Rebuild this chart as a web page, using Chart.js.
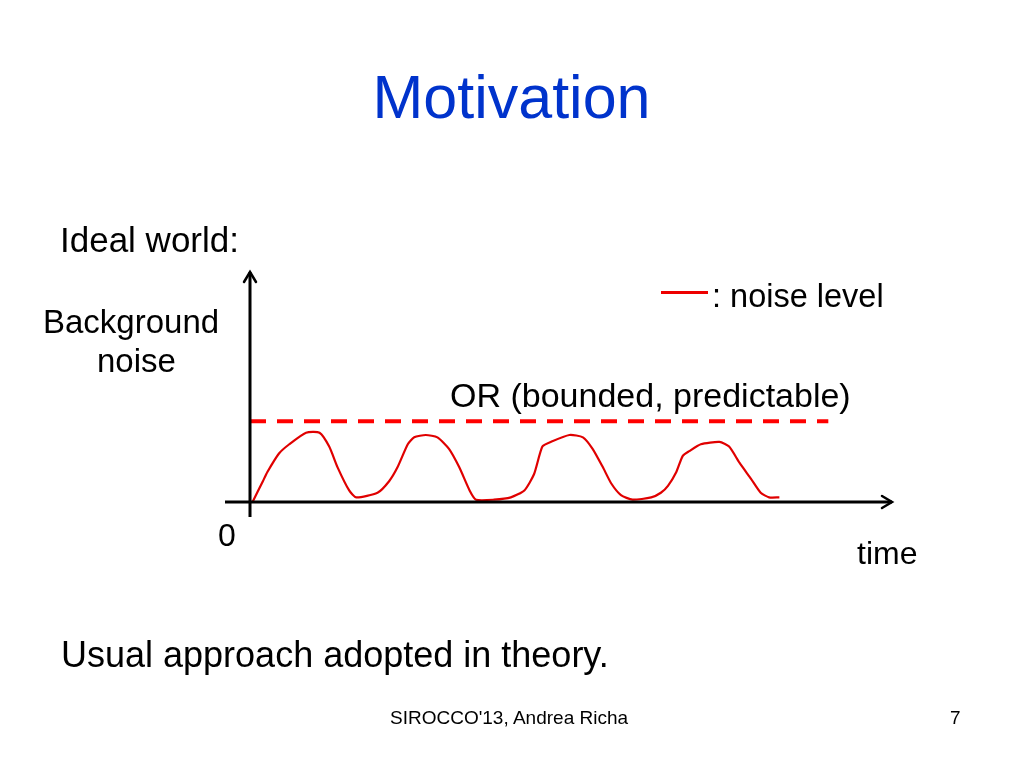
<!DOCTYPE html>
<html>
<head>
<meta charset="utf-8">
<script src="https://cdn.jsdelivr.net/npm/chart.js@4.4.0/dist/chart.umd.min.js"></script>
<style>
  html, body { margin: 0; padding: 0; background: #ffffff; }
  #wrap { position: relative; width: 1023px; height: 767px; overflow: hidden; font-family: "Liberation Sans", Arial, sans-serif; color: #000; }
  #c { position: absolute; left: 0; top: 0; }
  .t { position: absolute; white-space: nowrap; line-height: normal; }
</style>
</head>
<body>
<div id="wrap">
  <canvas id="c" width="1023" height="767"></canvas>
  <div class="t" style="left:0;width:1023px;text-align:center;top:62px;font-size:61px;color:#0033cc;">Motivation</div>
  <div class="t" style="left:60px;top:220px;font-size:35px;">Ideal world:</div>
  <div class="t" style="left:43px;top:303px;font-size:33px;">Background</div>
  <div class="t" style="left:97px;top:342px;font-size:33px;">noise</div>
  <div class="t" style="left:450px;top:376px;font-size:34px;">OR (bounded, predictable)</div>
  <div style="position:absolute;left:661px;top:291px;width:47px;height:3px;background:#ee0000;"></div>
  <div class="t" style="left:712px;top:278px;font-size:32.5px;">: noise level</div>
  <div class="t" style="left:218px;top:517px;font-size:32px;">0</div>
  <div class="t" style="left:857px;top:535px;font-size:32px;">time</div>
  <div class="t" style="left:61px;top:634px;font-size:36px;">Usual approach adopted in theory.</div>
  <div class="t" style="left:390px;top:707px;font-size:19px;">SIROCCO'13, Andrea Richa</div>
  <div class="t" style="left:950px;top:707px;font-size:19px;">7</div>
</div>
<script>
// time (x) and background noise level (y)
const noiseTime = [0.04,0.20,0.27,0.45,0.61,0.87,1.08,1.23,1.36,1.54,1.65,1.98,2.16,2.29,2.45,2.55,2.73,2.91,3.09,3.25,3.41,3.51,3.79,4.05,4.26,4.41,4.54,4.67,4.96,5.17,5.32,5.48,5.61,5.76,5.94,6.23,6.38,6.49,6.62,6.72,6.82,7.00,7.29,7.44,7.60,7.78,7.93,8.06,8.22];
const noiseLevel = [0.00,0.09,0.13,0.21,0.25,0.30,0.30,0.24,0.15,0.05,0.02,0.04,0.09,0.15,0.25,0.28,0.29,0.28,0.23,0.15,0.05,0.01,0.01,0.02,0.05,0.12,0.24,0.26,0.29,0.28,0.23,0.15,0.08,0.03,0.01,0.02,0.04,0.07,0.13,0.20,0.22,0.25,0.26,0.24,0.17,0.10,0.04,0.02,0.02];
const boundTime = [0, 8.98];
const boundLevel = [0.35, 0.35];

const noisePts = noiseTime.map((t, i) => ({ x: t, y: noiseLevel[i] }));
const boundPts = boundTime.map((t, i) => ({ x: t, y: boundLevel[i] }));

const axesArrows = {
  id: 'axesArrows',
  afterDraw(chart) {
    const ctx = chart.ctx;
    const xs = chart.scales.x, ys = chart.scales.y;
    const x0 = xs.getPixelForValue(0), y0 = ys.getPixelForValue(0);
    const right = xs.getPixelForValue(10) - 2;
    const top = ys.getPixelForValue(1) + 1;
    ctx.save();
    ctx.strokeStyle = '#000';
    ctx.lineWidth = 3;
    ctx.lineCap = 'butt';
    ctx.beginPath();
    ctx.moveTo(x0 - 25, y0); ctx.lineTo(right, y0);
    ctx.moveTo(x0, y0 + 15); ctx.lineTo(x0, top);
    ctx.stroke();
    ctx.lineWidth = 2.5;
    ctx.lineCap = 'round';
    ctx.beginPath();
    ctx.moveTo(right - 10, y0 - 6); ctx.lineTo(right, y0); ctx.lineTo(right - 10, y0 + 6);
    ctx.moveTo(x0 - 6, top + 10); ctx.lineTo(x0, top); ctx.lineTo(x0 + 6, top + 10);
    ctx.stroke();
    ctx.restore();
  }
};

new Chart(document.getElementById('c'), {
  type: 'line',
  data: {
    datasets: [
      { data: noisePts, borderColor: '#e00000', borderWidth: 2.2, pointRadius: 0, tension: 0.2, fill: false },
      { data: boundPts, borderColor: '#ff0000', borderWidth: 4, borderDash: [16, 11], pointRadius: 0, fill: false }
    ]
  },
  options: {
    responsive: false,
    animation: false,
    devicePixelRatio: 1,
    layout: { padding: { left: 250, right: 129, top: 271, bottom: 265 } },
    plugins: { legend: { display: false }, tooltip: { enabled: false }, title: { display: false } },
    scales: {
      x: { type: 'linear', min: 0, max: 10, display: false },
      y: { type: 'linear', min: 0, max: 1, display: false }
    }
  },
  plugins: [axesArrows]
});
</script>
</body>
</html>
